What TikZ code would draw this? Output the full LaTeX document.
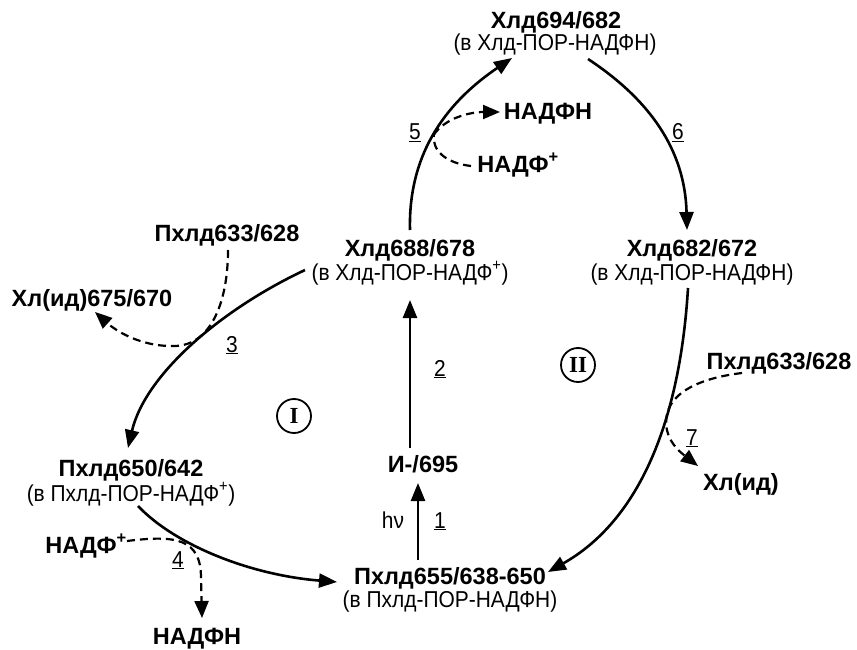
\documentclass[tikz,border=0pt]{standalone}
\usepackage{fontspec}
\setmainfont{Liberation Sans}[FakeStretch=0.91]
\newfontfamily\boldfont{Liberation Sans Bold}
\newfontfamily\romfont{Liberation Serif}
\usetikzlibrary{arrows.meta}
\begin{document}
\begin{tikzpicture}[x=1pt,y=-1pt,
 bt/.style={font=\boldfont\fontsize{23.5}{27}\selectfont, anchor=base, inner sep=0pt},
 rt/.style={font=\fontsize{23}{27}\selectfont, anchor=base, inner sep=0pt},
 flow/.style={line width=2.6pt, -{Triangle[length=18pt,width=14pt]}},
 side/.style={line width=2.2pt, dash pattern=on 8pt off 5pt, -{Triangle[length=17pt,width=14pt]}},
 roman/.style={circle, draw, line width=1.8pt, minimum size=34pt, inner sep=0pt, font=\romfont\bfseries\fontsize{23}{25}\selectfont}]
\useasboundingbox (0,0) rectangle (857,650);
% nodes
\node[bt] (t694) at (556,29) {Хлд694/682};
\node[rt] (s694) at (555,51) {(в Хлд-ПОР-НАДФН)};
\node[bt] (t688) at (410,256) {Хлд688/678};
\node[rt] (s688) at (410,280) {(в Хлд-ПОР-НАДФ\textsuperscript{+})};
\node[bt] (t682) at (692,256) {Хлд682/672};
\node[rt] (s682) at (692,280) {(в Хлд-ПОР-НАДФН)};
\node[bt] (pL) at (227,241) {Пхлд633/628};
\node[bt] (hlL) at (92,306) {Хл(ид)675/670};
\node[bt] (t650) at (131,476) {Пхлд650/642};
\node[rt] (s650) at (131,501) {(в Пхлд-ПОР-НАДФ\textsuperscript{+})};
\node[bt] (nL) at (86,553) {НАДФ\textsuperscript{+}};
\node[bt] (nB) at (197,644) {НАДФН};
\node[bt] (i695) at (423,472) {И-/695};
\node[rt] (hv) at (393,528) {hν};
\node[rt] (n1) at (440,528) {\underline{1}};
\node[bt] (t655) at (450,584) {Пхлд655/638-650};
\node[rt] (s655) at (450,607) {(в Пхлд-ПОР-НАДФН)};
\node[bt] (nT) at (548,120) {НАДФН};
\node[bt] (nT2) at (518,172) {НАДФ\textsuperscript{+}};
\node[bt] (pR) at (779,369) {Пхлд633/628};
\node[bt] (hlR) at (741,490) {Хл(ид)};
\node[rt] (n2) at (440,376) {\underline{2}};
\node[rt] (n3) at (232,352) {\underline{3}};
\node[rt] (n4) at (178,567) {\underline{4}};
\node[rt] (n5) at (415,140) {\underline{5}};
\node[rt] (n6) at (678,140) {\underline{6}};
\node[rt] (n7) at (692,445) {\underline{7}};
\node[roman] (cI) at (294,416) {I};
\node[roman] (cII) at (578,365) {II};
% main cycle
\draw[flow] ([shift={(0,-26)}]t688.base) .. controls (408,150) and (450,100) .. ([shift={(-44,29)}]t694.base) coordinate[pos=0.47] (b5);
\draw[flow] ([shift={(32,30)}]t694.base) .. controls (650,100) and (685,150) .. ([shift={(-5,-26)}]t682.base);
\draw[flow] ([shift={(-4,8)}]s682.base) .. controls (680,420) and (640,520) .. ([shift={(98,-12)}]t655.base) coordinate[pos=0.35] (b7);
\draw[flow] ([shift={(-32,-24)}]t655.base) -- ([shift={(-5,11)}]i695.base);
\draw[flow] ([shift={(-13,-24)}]i695.base) -- ([shift={(0,20)}]s688.base);
\draw[flow] ([shift={(-105,-10)}]s688.base) .. controls (220,310) and (145,375) .. ([shift={(-3,-28)}]t650.base);
\draw[flow] ([shift={(7,5)}]s650.base) .. controls (175,545) and (250,575) .. ([shift={(-113,-2)}]t655.base);
% side reactions
\draw[side] (b5) .. controls (445,118) and (470,112) .. ([shift={(-48,-8)}]nT.base);
\draw[side,-] ([shift={(-47,-6)}]nT2.base) .. controls (445,163) and (432,150) .. (b5);
\draw[side] ([shift={(1,9)}]pL.base) .. controls (228,300) and (212,345) .. (175,346) .. controls (140,347) and (115,330) .. ([shift={(3,6)}]hlL.base);
\draw[side] ([shift={(41,-12)}]nL.base) .. controls (175,535) and (201,538) .. (201,578) -- ([shift={(5,-26)}]nB.base);
\draw[side] ([shift={(-37,4)}]pR.base) .. controls (700,378) and (672,392) .. (b7) .. controls (662,438) and (680,452) .. ([shift={(-43,-24)}]hlR.base);
\end{tikzpicture}
\end{document}
